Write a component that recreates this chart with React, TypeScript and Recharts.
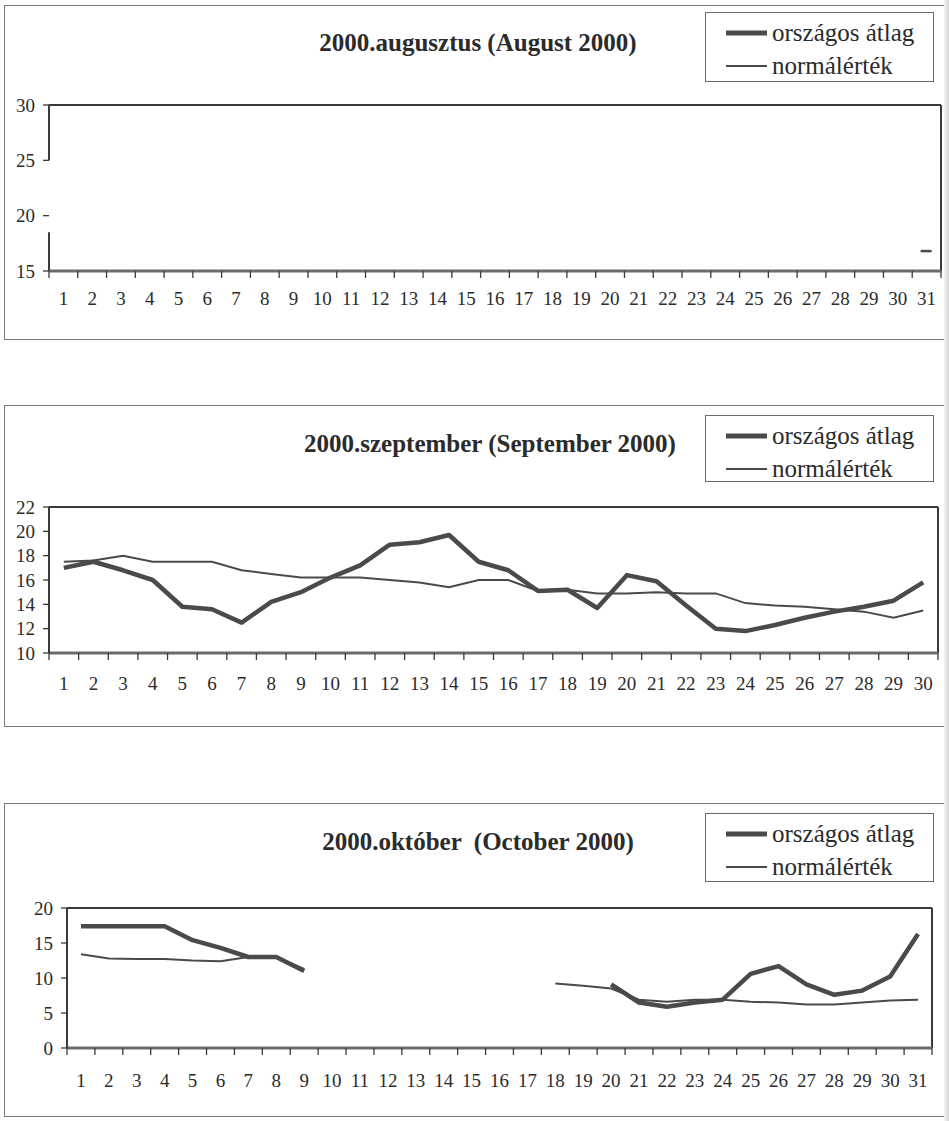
import React from "react";
import { LineChart, Line, XAxis, YAxis, ReferenceLine, Legend } from "recharts";

const SERIES_NAMES = ["országos átlag", "normálérték"];

// August 2000
const augTitle = "2000.augusztus (August 2000)";
const augDays = [1, 2, 3, 4, 5, 6, 7, 8, 9, 10, 11, 12, 13, 14, 15, 16, 17, 18, 19, 20, 21, 22, 23, 24, 25, 26, 27, 28, 29, 30, 31];
const augAtlag = [null, null, null, null, null, null, null, null, null, null, null, null, null, null, null, null, null, null, null, null, null, null, null, null, null, null, null, null, null, null, null];
const augNormal = [null, null, null, null, null, null, null, null, null, null, null, null, null, null, null, null, null, null, null, null, null, null, null, null, null, null, null, null, null, null, 16.8];
const augYTicks = [15, 20, 25, 30];
const augAxisPieces = [[30, 25], [18.5, 15]];

// September 2000
const sepTitle = "2000.szeptember (September 2000)";
const sepDays = [1, 2, 3, 4, 5, 6, 7, 8, 9, 10, 11, 12, 13, 14, 15, 16, 17, 18, 19, 20, 21, 22, 23, 24, 25, 26, 27, 28, 29, 30];
const sepAtlag = [17.0, 17.5, 16.8, 16.0, 13.8, 13.6, 12.5, 14.2, 15.0, 16.2, 17.2, 18.9, 19.1, 19.7, 17.5, 16.8, 15.1, 15.2, 13.7, 16.4, 15.9, 13.9, 12.0, 11.8, 12.3, 12.9, 13.4, 13.8, 14.3, 15.8];
const sepNormal = [17.5, 17.6, 18.0, 17.5, 17.5, 17.5, 16.8, 16.5, 16.2, 16.2, 16.2, 16.0, 15.8, 15.4, 16.0, 16.0, 15.1, 15.2, 14.9, 14.9, 15.0, 14.9, 14.9, 14.1, 13.9, 13.8, 13.6, 13.4, 12.9, 13.5];
const sepYTicks = [10, 12, 14, 16, 18, 20, 22];

// October 2000
const octTitle = "2000.október  (October 2000)";
const octDays = [1, 2, 3, 4, 5, 6, 7, 8, 9, 10, 11, 12, 13, 14, 15, 16, 17, 18, 19, 20, 21, 22, 23, 24, 25, 26, 27, 28, 29, 30, 31];
const octAtlag = [17.4, 17.4, 17.4, 17.4, 15.4, 14.3, 13.0, 13.0, 11.0, null, null, null, null, null, null, null, null, null, null, 9.1, 6.5, 5.9, 6.5, 6.9, 10.6, 11.7, 9.1, 7.6, 8.2, 10.2, 16.3];
const octNormal = [13.4, 12.8, 12.7, 12.7, 12.5, 12.4, 13.0, 13.0, 11.3, null, null, null, null, null, null, null, null, 9.2, 8.9, 8.5, 6.9, 6.6, 6.9, 6.9, 6.6, 6.5, 6.2, 6.2, 6.5, 6.8, 6.9];
const octYTicks = [0, 5, 10, 15, 20];

const INK = "#2b2b2b";
const LINE = "#4a4a4a";
const FONT = "'Liberation Serif', 'Times New Roman', serif";
const PAGE_W = 949;
const LABEL_H = 40;
const TK_H = 1;

const emptyFormatter = () => "";
const TICK_STYLE = { fontSize: 19, fill: INK, fontFamily: FONT };
const TICKLINE_STYLE = { stroke: "#3a3a3a", strokeWidth: 1.3 };
const BOTTOM_AXIS_STYLE = { stroke: "#6b6b6b", strokeWidth: 3 };
const LEFT_AXIS_STYLE = { stroke: "#3a3a3a", strokeWidth: 2 };

type PanelCfg = {
  title: string;
  days: number[];
  atlag: (number | null)[];
  normal: (number | null)[];
  yTicks: number[];
  boxTop: number;
  boxHeight: number;
  plotTop: number;
  plotBottom: number;
  plotLeft: number;
  plotRight: number;
  labelOffset: number;
  titleY: number;
  titleX: number;
  legendTop: number;
  legendHeight: number;
  axisPieces?: number[][];
  dashDot?: boolean;
};

function LegendBox({ payload, height }: any) {
  const items = [...(payload || [])].sort(
    (a: any, b: any) => SERIES_NAMES.indexOf(a.value) - SERIES_NAMES.indexOf(b.value)
  );
  return (
    <div
      style={{
        boxSizing: "border-box",
        width: 229,
        height,
        border: "1px solid #6a6a6a",
        background: "#fff",
        paddingTop: 3,
        paddingLeft: 19,
        fontFamily: FONT,
        fontSize: 25,
        color: INK,
      }}
    >
      {items.map((e: any, i: number) => (
        <div key={i} style={{ display: "flex", alignItems: "center", height: 33 }}>
          <svg width={44} height={10} style={{ flex: "none" }}>
            <line x1={1} x2={42} y1={5} y2={5} stroke={LINE} strokeWidth={e.value === SERIES_NAMES[0] ? 5 : 2} />
          </svg>
          <span style={{ marginLeft: 3, whiteSpace: "nowrap" }}>{e.value}</span>
        </div>
      ))}
    </div>
  );
}

const dashDot = (p: any) => {
  if (p.cx == null || p.cy == null || p.value == null) return <g key={"d" + p.index} />;
  return <line key={"d" + p.index} x1={p.cx - 6} x2={p.cx + 5} y1={p.cy} y2={p.cy} stroke={LINE} strokeWidth={2.5} />;
};

function derive(cfg: PanelCfg) {
  const n = cfg.days.length;
  return {
    cfg,
    data: cfg.days.map((d, i) => ({ day: d, atlag: cfg.atlag[i], normal: cfg.normal[i] })),
    xDomain: [cfg.days[0] - 0.5, cfg.days[n - 1] + 0.5] as [number, number],
    bounds: cfg.days.map((d) => d - 0.5).concat([cfg.days[n - 1] + 0.5]),
    yDomain: [cfg.yTicks[0], cfg.yTicks[cfg.yTicks.length - 1]] as [number, number],
    margin: {
      top: cfg.plotTop - cfg.boxTop,
      right: PAGE_W - cfg.plotRight,
      bottom: cfg.boxHeight - (cfg.plotBottom - cfg.boxTop) - LABEL_H - TK_H,
      left: 0,
    },
    legendWrap: { left: 705, top: cfg.legendTop - cfg.boxTop, width: 229, height: cfg.legendHeight },
    legendContent: (p: any) => <LegendBox payload={p.payload} height={cfg.legendHeight} />,
  };
}

function Panel({ d }: { d: ReturnType<typeof derive> }) {
  const cfg = d.cfg;
  const yMax = d.yDomain[1];
  return (
    <div style={{ position: "absolute", left: 0, top: cfg.boxTop, width: PAGE_W, height: cfg.boxHeight }}>
      <div
        style={{
          position: "absolute",
          left: 4,
          top: 0,
          width: 942,
          height: cfg.boxHeight,
          boxSizing: "border-box",
          border: "1px solid #7a7a7a",
        }}
      />
      <div
        style={{
          position: "absolute",
          left: cfg.titleX - 300,
          width: 600,
          top: cfg.titleY - cfg.boxTop - 15,
          lineHeight: "30px",
          textAlign: "center",
          fontFamily: FONT,
          fontWeight: "bold",
          fontSize: 25,
          color: INK,
          whiteSpace: "pre",
        }}
      >
        {cfg.title}
      </div>
      <div style={{ position: "absolute", left: 0, top: 0 }}>
        <LineChart width={PAGE_W} height={cfg.boxHeight} data={d.data} margin={d.margin}>
          <XAxis
            xAxisId="a"
            dataKey="day"
            type="number"
            domain={d.xDomain}
            ticks={d.bounds}
            interval={0}
            height={TK_H}
            tickSize={7}
            tickFormatter={emptyFormatter}
            tickLine={TICKLINE_STYLE}
            axisLine={BOTTOM_AXIS_STYLE}
            allowDataOverflow
          />
          <XAxis
            xAxisId="b"
            dataKey="day"
            type="number"
            domain={d.xDomain}
            ticks={cfg.days}
            interval={0}
            height={LABEL_H}
            tickLine={false}
            axisLine={false}
            tickSize={6}
            tickMargin={cfg.labelOffset - 6 - TK_H}
            tick={TICK_STYLE}
            allowDataOverflow
          />
          <YAxis
            type="number"
            domain={d.yDomain}
            ticks={cfg.yTicks}
            interval={0}
            width={cfg.plotLeft}
            tickSize={6}
            tickMargin={8}
            tick={TICK_STYLE}
            tickLine={TICKLINE_STYLE}
            axisLine={cfg.axisPieces ? false : LEFT_AXIS_STYLE}
            allowDataOverflow
          />
          <ReferenceLine xAxisId="b" y={yMax} stroke="#3a3a3a" strokeWidth={2} ifOverflow="visible" />
          <ReferenceLine xAxisId="b" x={d.xDomain[1]} stroke="#3a3a3a" strokeWidth={2} ifOverflow="visible" />
          {(cfg.axisPieces || []).map((pc, i) => (
            <ReferenceLine
              key={"ap" + i}
              xAxisId="b"
              segment={[
                { x: d.xDomain[0], y: pc[0] },
                { x: d.xDomain[0], y: pc[1] },
              ]}
              stroke="#3a3a3a"
              strokeWidth={2}
              ifOverflow="visible"
            />
          ))}
          <Line
            xAxisId="b"
            dataKey="atlag"
            name={SERIES_NAMES[0]}
            stroke={LINE}
            strokeWidth={4.5}
            dot={false}
            isAnimationActive={false}
            strokeLinejoin="round"
          />
          <Line
            xAxisId="b"
            dataKey="normal"
            name={SERIES_NAMES[1]}
            stroke={LINE}
            strokeWidth={2}
            dot={cfg.dashDot ? dashDot : false}
            isAnimationActive={false}
          />
          <Legend
            layout="vertical"
            align="center"
            verticalAlign="middle"
            wrapperStyle={d.legendWrap}
            content={d.legendContent}
          />
        </LineChart>
      </div>
    </div>
  );
}

const panels = [
  derive({
    title: augTitle,
    days: augDays,
    atlag: augAtlag,
    normal: augNormal,
    yTicks: augYTicks,
    boxTop: 5,
    boxHeight: 335,
    plotTop: 105,
    plotBottom: 271,
    plotLeft: 49,
    plotRight: 941,
    labelOffset: 21,
    titleY: 43,
    titleX: 478,
    legendTop: 12,
    legendHeight: 70,
    axisPieces: augAxisPieces,
    dashDot: true,
  }),
  derive({
    title: sepTitle,
    days: sepDays,
    atlag: sepAtlag,
    normal: sepNormal,
    yTicks: sepYTicks,
    boxTop: 405,
    boxHeight: 322,
    plotTop: 507,
    plotBottom: 653,
    plotLeft: 49,
    plotRight: 938,
    labelOffset: 24,
    titleY: 444,
    titleX: 490,
    legendTop: 415,
    legendHeight: 67,
  }),
  derive({
    title: octTitle,
    days: octDays,
    atlag: octAtlag,
    normal: octNormal,
    yTicks: octYTicks,
    boxTop: 803,
    boxHeight: 314,
    plotTop: 908,
    plotBottom: 1048,
    plotLeft: 67,
    plotRight: 932,
    labelOffset: 26,
    titleY: 842,
    titleX: 478,
    legendTop: 813,
    legendHeight: 69,
  }),
];

export default function App() {
  return (
    <div
      style={{
        position: "absolute",
        left: 0,
        top: 0,
        width: PAGE_W,
        height: 1121,
        background: "#fff",
        overflow: "hidden",
        fontFamily: FONT,
      }}
    >
      {panels.map((p, i) => (
        <Panel key={i} d={p} />
      ))}
      <div
        style={{
          position: "absolute",
          left: 944,
          top: 0,
          width: 5,
          height: 1121,
          background: "linear-gradient(to right, #f4f4f4, #d4d4d4)",
        }}
      />
    </div>
  );
}
